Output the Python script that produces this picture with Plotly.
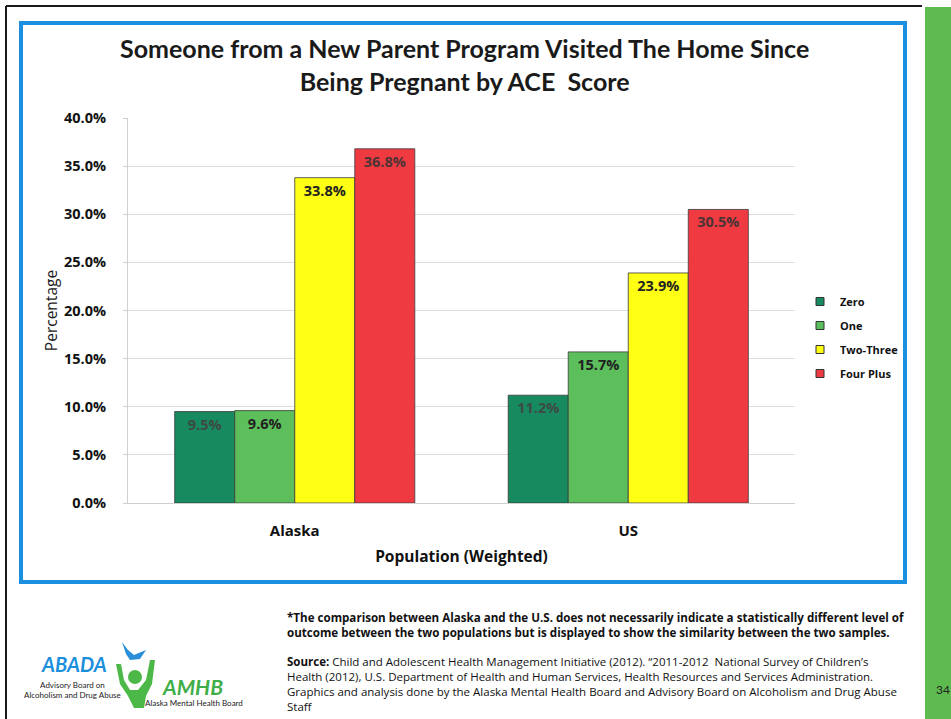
import plotly.graph_objects as go

# ---- data -------------------------------------------------------------
populations = ["Alaska", "US"]
ace_groups = ["Zero", "One", "Two-Three", "Four Plus"]
zero_vals = [9.5, 11.2]
one_vals = [9.6, 15.7]
two_three_vals = [33.8, 23.9]
four_plus_vals = [36.8, 30.5]
y_ticks = [0, 5, 10, 15, 20, 25, 30, 35, 40]
y_tick_labels = [f"{v:.1f}%" for v in y_ticks]

series = [zero_vals, one_vals, two_three_vals, four_plus_vals]
bar_colors = ["#178a5f", "#5cbf5c", "#ffff14", "#f03a42"]
label_colors = ["#3d4a44", "#222222", "#222222", "#4a3434"]

W, H = 951, 719
PL, PR, PT, PB = 128, 795, 118, 503   # plot area in pixels


def px(x):
    return (x - PL) / (PR - PL)


def py(y):
    return (PB - y) / (PB - PT)


FONT = "Lato"
BODY = "Open Sans"

fig = go.Figure()
for name, vals, col, lcol in zip(ace_groups, series, bar_colors, label_colors):
    fig.add_trace(go.Bar(
        name=name,
        x=populations,
        y=vals,
        showlegend=False,
        marker=dict(color=col, line=dict(color="#3a3a3a", width=0.8)),
        texttemplate="%{y:.1f}%",
        textposition="inside",
        insidetextanchor="end",
        textangle=0,
        textfont=dict(family=BODY, size=14.5, color=lcol, weight="bold"),
        cliponaxis=False,
    ))
# small square legend keys for the four ACE groups
for name, col in zip(ace_groups, bar_colors):
    fig.add_trace(go.Scatter(
        name=name, x=[None], y=[None], mode="markers", legendgroup=name,
        marker=dict(symbol="square", size=8, color=col, line=dict(color="#333333", width=1)),
    ))

fig.update_layout(
    width=W, height=H,
    margin=dict(l=PL, r=W - PR, t=PT, b=H - PB),
    paper_bgcolor="white",
    plot_bgcolor="white",
    barmode="group",
    bargap=0.28,
    bargroupgap=0,
    font=dict(family=BODY, color="#111111"),
    showlegend=True,
    legend=dict(
        x=px(800), y=py(287), xanchor="left", yanchor="top",
        font=dict(family=BODY, size=11, color="#111111", weight="bold"),
        tracegroupgap=5,
        itemwidth=30,
        bgcolor="rgba(0,0,0,0)",
    ),
)

fig.update_yaxes(
    range=[0, 40],
    tickvals=y_ticks,
    ticktext=y_tick_labels,
    tickfont=dict(family=BODY, size=14.5, color="#111111", weight="bold"),
    ticklabelstandoff=14,
    showgrid=True,
    gridcolor="#dedede",
    gridwidth=1,
    zeroline=False,
    showline=True,
    linecolor="#cfcfcf",
    ticks="outside",
    ticklen=4,
    tickcolor="#cfcfcf",
    title=dict(text="Percentage", font=dict(family=BODY, size=15.5, color="#222222"),
               standoff=2),
)
fig.update_xaxes(
    tickfont=dict(family=BODY, size=15, color="#111111", weight="bold"),
    showline=True,
    linecolor="#cfcfcf",
    ticks="",
    ticklabelstandoff=14,
    title=dict(text="Population (Weighted)",
               font=dict(family=BODY, size=15.5, color="#111111", weight="bold"),
               standoff=12),
)

shapes = []
# outer page border (top and left)
shapes.append(dict(type="line", xref="paper", yref="paper",
                   x0=px(6), x1=px(922), y0=py(6), y1=py(6),
                   line=dict(color="#1a1a1a", width=2)))
shapes.append(dict(type="line", xref="paper", yref="paper",
                   x0=px(6), x1=px(6), y0=py(6), y1=py(719),
                   line=dict(color="#1a1a1a", width=2)))
# green side strip
shapes.append(dict(type="rect", xref="paper", yref="paper",
                   x0=px(925), x1=px(951), y0=py(7), y1=py(719),
                   fillcolor="#5dbb4f", line=dict(width=0), layer="below"))
# blue chart frame
shapes.append(dict(type="rect", xref="paper", yref="paper",
                   x0=px(21), x1=px(905), y0=py(23), y1=py(582),
                   line=dict(color="#1b8fe0", width=4), fillcolor="rgba(0,0,0,0)"))

# logo figure: head, arms/body and bird
shapes.append(dict(type="circle", xref="paper", yref="paper",
                   x0=px(128), x1=px(142), y0=py(670), y1=py(684),
                   fillcolor="#4cb848", line=dict(width=0)))


def path(points):
    d = "M " + " L ".join(f"{px(a):.5f},{py(b):.5f}" for a, b in points) + " Z"
    return d


shapes.append(dict(type="path", xref="paper", yref="paper",
                   path=path([(116, 664), (121, 664), (124, 680), (130, 690), (138, 690),
                              (146, 680), (150, 660), (155, 660), (152, 684), (146, 696),
                              (144, 708), (134, 708), (128, 696), (120, 684)]),
                   fillcolor="#4cb848", line=dict(width=0)))
shapes.append(dict(type="path", xref="paper", yref="paper",
                   path=path([(122, 642), (128, 650), (134, 655), (146, 650), (140, 659),
                              (130, 660), (126, 654)]),
                   fillcolor="#2a8fd8", line=dict(width=0)))
fig.update_layout(shapes=shapes)

annotations = [
    dict(text="Someone from a New Parent Program Visited The Home Since<br>Being Pregnant by ACE  Score",
         x=px(464), y=py(31), xanchor="center", yanchor="top",
         font=dict(family=FONT, size=25, color="#1a1a1a", weight="bold")),
    dict(text="*The comparison between Alaska and the U.S. does not necessarily indicate a statistically different level of<br>"
              "outcome between the two populations but is displayed to show the similarity between the two samples.",
         x=px(285), y=py(608), xanchor="left", yanchor="top", align="left",
         font=dict(family=BODY, size=11.6, color="#111111", weight="bold")),
    dict(text="<b>Source:</b> Child and Adolescent Health Management Initiative (2012). \u201c2011-2012  National Survey of Children\u2019s<br>"
              "Health (2012), U.S. Department of Health and Human Services, Health Resources and Services Administration.<br>"
              "Graphics and analysis done by the Alaska Mental Health Board and Advisory Board on Alcoholism and Drug Abuse<br>"
              "Staff",
         x=px(285), y=py(652), xanchor="left", yanchor="top", align="left",
         font=dict(family=BODY, size=11.5, color="#111111")),
    dict(text="34", x=px(943), y=py(689), xanchor="center", yanchor="middle",
         font=dict(family=FONT, size=12, color="#222222")),
    dict(text="<i><b>ABADA</b></i>", x=px(74), y=py(664), xanchor="center", yanchor="middle",
         font=dict(family=FONT, size=20, color="#1b8fdc")),
    dict(text="Advisory Board on<br>Alcoholism and Drug Abuse", x=px(72), y=py(690),
         xanchor="center", yanchor="middle", align="center",
         font=dict(family=FONT, size=8, color="#222222")),
    dict(text="<i><b>AMHB</b></i>", x=px(192), y=py(686), xanchor="center", yanchor="middle",
         font=dict(family=FONT, size=21, color="#3fae49")),
    dict(text="Alaska Mental Health Board", x=px(194), y=py(703), xanchor="center", yanchor="middle",
         font=dict(family=FONT, size=8, color="#222222")),
]
for a in annotations:
    a.update(xref="paper", yref="paper", showarrow=False)
fig.update_layout(annotations=annotations)

fig.write_html("out.html")
